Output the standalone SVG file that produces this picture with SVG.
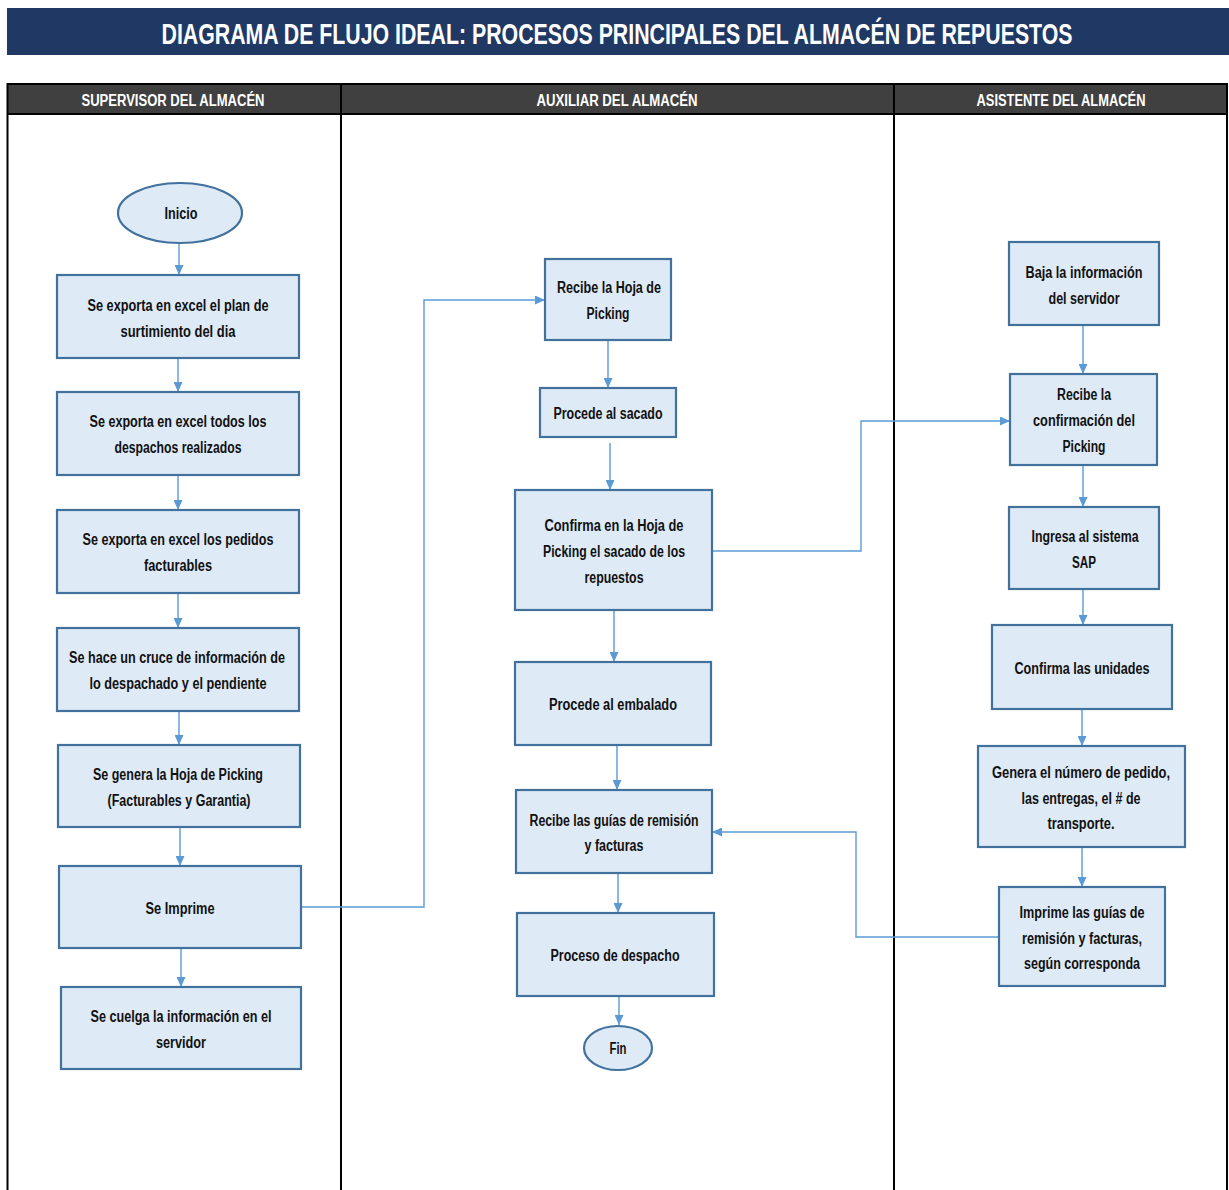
<svg xmlns="http://www.w3.org/2000/svg" width="1229" height="1190" viewBox="0 0 1229 1190">
  <style>
    .title { font-family: "Liberation Sans", Arial, sans-serif; font-weight: bold; font-size: 30px; fill: #ffffff; }
    .lane { font-family: "Liberation Sans", Arial, sans-serif; font-weight: bold; font-size: 16px; fill: #ffffff; text-anchor: middle; }
    .box { fill: #DEEAF6; stroke: #41719C; stroke-width: 2.2; }
    .lbl { font-family: "Liberation Sans", Arial, sans-serif; font-weight: bold; font-size: 16px; fill: #111111; text-anchor: middle; }
    .conn { fill: none; stroke: #5B9BD5; stroke-width: 1.4; }
    .grid { stroke: #000000; stroke-width: 2; fill: none; }
  </style>
  <defs>
    <marker id="arr" markerUnits="userSpaceOnUse" markerWidth="10" markerHeight="9" refX="10" refY="4.5" orient="auto">
      <path d="M0,0 L10,4.5 L0,9 z" fill="#5B9BD5"/>
    </marker>
  </defs>

  <rect width="1229" height="1190" fill="#ffffff"/>

  <!-- Title banner -->
  <g id="title">
    <rect x="7" y="8" width="1222" height="47" fill="#203864"/>
    <text class="title" x="617" y="44" text-anchor="middle" textLength="911" lengthAdjust="spacingAndGlyphs">DIAGRAMA DE FLUJO IDEAL: PROCESOS PRINCIPALES DEL ALMACÉN DE REPUESTOS</text>
  </g>

  <!-- Swimlanes -->
  <g id="lanes">
    <rect x="7" y="84" width="1220" height="30" fill="#404040"/>
    <line class="grid" x1="7" y1="84" x2="1228" y2="84" stroke-width="3"/>
    <line class="grid" x1="7" y1="114" x2="1228" y2="114" stroke-width="3"/>
    <line class="grid" x1="7.5" y1="83" x2="7.5" y2="1190" stroke-width="1.5"/>
    <line class="grid" x1="341" y1="83" x2="341" y2="1190"/>
    <line class="grid" x1="894" y1="83" x2="894" y2="1190"/>
    <line class="grid" x1="1227" y1="83" x2="1227" y2="1190"/>
    <text class="lane" x="173" y="106" textLength="183" lengthAdjust="spacingAndGlyphs">SUPERVISOR DEL ALMACÉN</text>
    <text class="lane" x="617" y="106" textLength="161" lengthAdjust="spacingAndGlyphs">AUXILIAR DEL ALMACÉN</text>
    <text class="lane" x="1061" y="106" textLength="169" lengthAdjust="spacingAndGlyphs">ASISTENTE DEL ALMACÉN</text>
  </g>

  <!-- Connectors -->
  <g id="connectors">
    <line class="conn" x1="179" y1="244" x2="179" y2="275" marker-end="url(#arr)"/>
    <line class="conn" x1="178" y1="358" x2="178" y2="392" marker-end="url(#arr)"/>
    <line class="conn" x1="178" y1="475" x2="178" y2="510" marker-end="url(#arr)"/>
    <line class="conn" x1="178" y1="593" x2="178" y2="628" marker-end="url(#arr)"/>
    <line class="conn" x1="179" y1="711" x2="179" y2="745" marker-end="url(#arr)"/>
    <line class="conn" x1="180" y1="827" x2="180" y2="866" marker-end="url(#arr)"/>
    <line class="conn" x1="181" y1="948" x2="181" y2="987" marker-end="url(#arr)"/>
    <polyline class="conn" points="301,907 424,907 424,300 545,300" marker-end="url(#arr)"/>
    <line class="conn" x1="608" y1="340" x2="608" y2="388" marker-end="url(#arr)"/>
    <line class="conn" x1="610" y1="443" x2="610" y2="490" marker-end="url(#arr)"/>
    <polyline class="conn" points="712,551 861,551 861,421 1010,421" marker-end="url(#arr)"/>
    <line class="conn" x1="614" y1="610" x2="614" y2="662" marker-end="url(#arr)"/>
    <line class="conn" x1="617" y1="745" x2="617" y2="790" marker-end="url(#arr)"/>
    <line class="conn" x1="618" y1="873" x2="618" y2="913" marker-end="url(#arr)"/>
    <line class="conn" x1="619" y1="996" x2="619" y2="1025" marker-end="url(#arr)"/>
    <polyline class="conn" points="999,937 856,937 856,832 712,832" marker-end="url(#arr)"/>
    <line class="conn" x1="1083" y1="325" x2="1083" y2="374" marker-end="url(#arr)"/>
    <line class="conn" x1="1083" y1="465" x2="1083" y2="507" marker-end="url(#arr)"/>
    <line class="conn" x1="1083" y1="589" x2="1083" y2="625" marker-end="url(#arr)"/>
    <line class="conn" x1="1082" y1="709" x2="1082" y2="746" marker-end="url(#arr)"/>
    <line class="conn" x1="1082" y1="847" x2="1082" y2="887" marker-end="url(#arr)"/>
  </g>

  <!-- Supervisor lane -->
  <g id="inicio">
    <ellipse class="box" cx="180" cy="213" rx="62" ry="30"/>
    <text class="lbl" x="181" y="219" textLength="33" lengthAdjust="spacingAndGlyphs">Inicio</text>
  </g>
  <g id="exporta-plan">
    <rect class="box" x="57" y="275" width="242" height="83"/>
    <text class="lbl" x="178" y="311" textLength="181" lengthAdjust="spacingAndGlyphs">Se exporta en excel el plan de</text>
    <text class="lbl" x="178" y="337" textLength="115" lengthAdjust="spacingAndGlyphs">surtimiento del dia</text>
  </g>
  <g id="exporta-despachos">
    <rect class="box" x="57" y="392" width="242" height="83"/>
    <text class="lbl" x="178" y="427" textLength="177" lengthAdjust="spacingAndGlyphs">Se exporta en excel todos los</text>
    <text class="lbl" x="178" y="453" textLength="127" lengthAdjust="spacingAndGlyphs">despachos realizados</text>
  </g>
  <g id="exporta-pedidos">
    <rect class="box" x="57" y="510" width="242" height="83"/>
    <text class="lbl" x="178" y="545" textLength="191" lengthAdjust="spacingAndGlyphs">Se exporta en excel los pedidos</text>
    <text class="lbl" x="178" y="571" textLength="68" lengthAdjust="spacingAndGlyphs">facturables</text>
  </g>
  <g id="cruce">
    <rect class="box" x="57" y="628" width="242" height="83"/>
    <text class="lbl" x="177" y="663" textLength="216" lengthAdjust="spacingAndGlyphs">Se hace un cruce de información de</text>
    <text class="lbl" x="178" y="689" textLength="177" lengthAdjust="spacingAndGlyphs">lo despachado y el pendiente</text>
  </g>
  <g id="genera-hoja">
    <rect class="box" x="58" y="745" width="242" height="82"/>
    <text class="lbl" x="178" y="780" textLength="170" lengthAdjust="spacingAndGlyphs">Se genera la Hoja de Picking</text>
    <text class="lbl" x="179" y="806" textLength="143" lengthAdjust="spacingAndGlyphs">(Facturables y Garantia)</text>
  </g>
  <g id="imprime-hoja">
    <rect class="box" x="59" y="866" width="242" height="82"/>
    <text class="lbl" x="180" y="914" textLength="69" lengthAdjust="spacingAndGlyphs">Se Imprime</text>
  </g>
  <g id="cuelga">
    <rect class="box" x="61" y="987" width="240" height="82"/>
    <text class="lbl" x="181" y="1022" textLength="181" lengthAdjust="spacingAndGlyphs">Se cuelga la información en el</text>
    <text class="lbl" x="181" y="1048" textLength="50" lengthAdjust="spacingAndGlyphs">servidor</text>
  </g>

  <!-- Auxiliar lane -->
  <g id="recibe-hoja">
    <rect class="box" x="545" y="259" width="126" height="81"/>
    <text class="lbl" x="609" y="293" textLength="104" lengthAdjust="spacingAndGlyphs">Recibe la Hoja de</text>
    <text class="lbl" x="608" y="319" textLength="43" lengthAdjust="spacingAndGlyphs">Picking</text>
  </g>
  <g id="sacado">
    <rect class="box" x="540" y="388" width="136" height="49"/>
    <text class="lbl" x="608" y="419" textLength="109" lengthAdjust="spacingAndGlyphs">Procede al sacado</text>
  </g>
  <g id="confirma-hoja">
    <rect class="box" x="515" y="490" width="197" height="120"/>
    <text class="lbl" x="614" y="531" textLength="139" lengthAdjust="spacingAndGlyphs">Confirma en la Hoja de</text>
    <text class="lbl" x="614" y="557" textLength="142" lengthAdjust="spacingAndGlyphs">Picking el sacado de los</text>
    <text class="lbl" x="614" y="583" textLength="59" lengthAdjust="spacingAndGlyphs">repuestos</text>
  </g>
  <g id="embalado">
    <rect class="box" x="515" y="662" width="196" height="83"/>
    <text class="lbl" x="613" y="710" textLength="128" lengthAdjust="spacingAndGlyphs">Procede al embalado</text>
  </g>
  <g id="recibe-guias">
    <rect class="box" x="516" y="790" width="196" height="83"/>
    <text class="lbl" x="614" y="826" textLength="169" lengthAdjust="spacingAndGlyphs">Recibe las guías de remisión</text>
    <text class="lbl" x="614" y="851" textLength="59" lengthAdjust="spacingAndGlyphs">y facturas</text>
  </g>
  <g id="despacho">
    <rect class="box" x="517" y="913" width="197" height="83"/>
    <text class="lbl" x="615" y="961" textLength="129" lengthAdjust="spacingAndGlyphs">Proceso de despacho</text>
  </g>
  <g id="fin">
    <ellipse class="box" cx="618" cy="1048" rx="34" ry="22"/>
    <text class="lbl" x="618" y="1054" textLength="17" lengthAdjust="spacingAndGlyphs">Fin</text>
  </g>

  <!-- Asistente lane -->
  <g id="baja-info">
    <rect class="box" x="1009" y="242" width="150" height="83"/>
    <text class="lbl" x="1084" y="278" textLength="117" lengthAdjust="spacingAndGlyphs">Baja la información</text>
    <text class="lbl" x="1084" y="304" textLength="71" lengthAdjust="spacingAndGlyphs">del servidor</text>
  </g>
  <g id="recibe-confirmacion">
    <rect class="box" x="1010" y="374" width="147" height="91"/>
    <text class="lbl" x="1084" y="400" textLength="54" lengthAdjust="spacingAndGlyphs">Recibe la</text>
    <text class="lbl" x="1084" y="426" textLength="102" lengthAdjust="spacingAndGlyphs">confirmación del</text>
    <text class="lbl" x="1084" y="452" textLength="43" lengthAdjust="spacingAndGlyphs">Picking</text>
  </g>
  <g id="ingresa-sap">
    <rect class="box" x="1009" y="507" width="150" height="82"/>
    <text class="lbl" x="1085" y="542" textLength="107" lengthAdjust="spacingAndGlyphs">Ingresa al sistema</text>
    <text class="lbl" x="1084" y="568" textLength="24" lengthAdjust="spacingAndGlyphs">SAP</text>
  </g>
  <g id="confirma-unidades">
    <rect class="box" x="992" y="625" width="180" height="84"/>
    <text class="lbl" x="1082" y="674" textLength="135" lengthAdjust="spacingAndGlyphs">Confirma las unidades</text>
  </g>
  <g id="genera-pedido">
    <rect class="box" x="978" y="746" width="207" height="101"/>
    <text class="lbl" x="1081" y="778" textLength="178" lengthAdjust="spacingAndGlyphs">Genera el número de pedido,</text>
    <text class="lbl" x="1081" y="804" textLength="119" lengthAdjust="spacingAndGlyphs">las entregas, el # de</text>
    <text class="lbl" x="1081" y="829" textLength="67" lengthAdjust="spacingAndGlyphs">transporte.</text>
  </g>
  <g id="imprime-guias">
    <rect class="box" x="999" y="887" width="166" height="99"/>
    <text class="lbl" x="1082" y="918" textLength="125" lengthAdjust="spacingAndGlyphs">Imprime las guías de</text>
    <text class="lbl" x="1082" y="944" textLength="120" lengthAdjust="spacingAndGlyphs">remisión y facturas,</text>
    <text class="lbl" x="1082" y="969" textLength="116" lengthAdjust="spacingAndGlyphs">según corresponda</text>
  </g>
</svg>
